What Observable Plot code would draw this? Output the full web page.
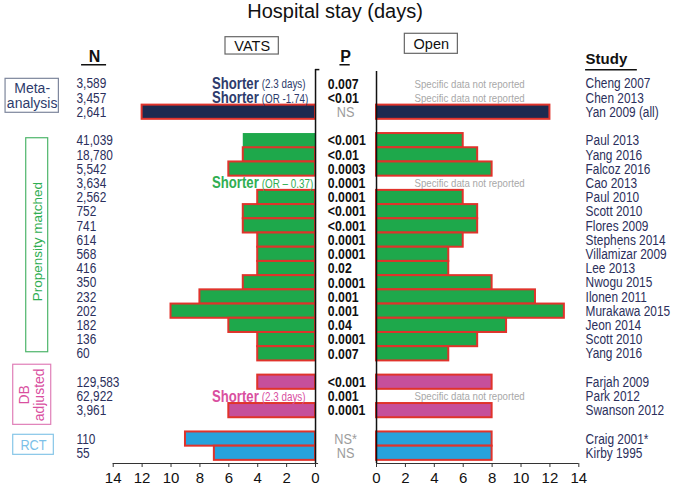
<!DOCTYPE html>
<html><head><meta charset="utf-8">
<script src="https://cdn.jsdelivr.net/npm/d3@7"></script>
<script src="https://cdn.jsdelivr.net/npm/@observablehq/plot@0.6"></script>
<style>
body{margin:0;background:#fff;}
#title{height:30px;line-height:30px;font:20px 'Liberation Sans',Arial,sans-serif;text-align:center;width:670px;color:#111;}
</style></head><body>
<div id="title">Hospital stay (days)</div>
<div id="chart"></div>
<script>
// ---------- data ----------
const groups = ["Meta-analysis", "Propensity matched", "DB adjusted", "RCT"];
const groupLabels = ["Meta-\nanalysis", "Propensity matched", "DB\nadjusted", "RCT"];
const studies = ["Cheng 2007","Chen 2013","Yan 2009 (all)",
  "Paul 2013","Yang 2016","Falcoz 2016","Cao 2013","Paul 2010","Scott 2010","Flores 2009","Stephens 2014",
  "Villamizar 2009","Lee 2013","Nwogu 2015","Ilonen 2011","Murakawa 2015","Jeon 2014","Scott 2010","Yang 2016",
  "Farjah 2009","Park 2012","Swanson 2012",
  "Craig 2001*","Kirby 1995"];
const studyGroup = [0,0,0, 1,1,1,1,1,1,1,1,1,1,1,1,1,1,1,1, 2,2,2, 3,3];
const sampleSize = ["3,589","3,457","2,641",
  "41,039","18,780","5,542","3,634","2,562","752","741","614","568","416","350","232","202","182","136","60",
  "129,583","62,922","3,961","110","55"];
const pValues = ["0.007","<0.01","NS",
  "<0.001","<0.01","0.0003","0.0001","0.0001","<0.001","<0.001","0.0001","0.0001","0.02","0.0001","0.001","0.001","0.04","0.0001","0.007",
  "<0.001","0.001","0.0001","NS*","NS"];
const vatsDays = [null,null,12, 5,5,6,null,4,5,5,4,4,4,5,8,10,6,4,4, 4,null,6, 9,7];
const openDays = [null,null,12, 6,7,8,null,6,7,7,6,5,5,8,11,13,9,7,5, 8,null,8, 8,8];
const vatsNote = ["(2.3 days)","(OR -1.74)",null, null,null,null,"(OR \u2013 0.37)",null,null,null,null,null,null,null,null,null,null,null,null, null,"(2.3 days)",null, null,null];
const axisTicks = [0,2,4,6,8,10,12,14];

// ---------- styles / layout ----------
const barFill = ["#1c2a50","#1ea84b","#c64f9b","#27a2dc"];
const labelColor = ["#2d3b6c","#2fae52","#d94f9f","#7cc0e8"];
const boxStroke = ["#7d869c","#4db56a","#e07fb8","#86c6e8"];
const RED = "#e0332b";
// "Narrow" is not installed: falls back to Liberation Sans, then condensed below
const NARROW = "'Liberation Sans Narrow','Liberation Sans',Arial,sans-serif";
const SANS = "'Liberation Sans',Arial,sans-serif";
const R0 = 4.22;          // origin of the Open panel on the shared x scale
const YMAX = 27.22;       // bottom of the frame (axis line)
const groupLayout = [
  {x1:-21.45,x2:-17.76,y1:0.15,y2:2.54,tx:-19.61,ty:1.32,rotate:0,size:14},
  {x1:-20.02,x2:-18.50,y1:4.33,y2:19.39,tx:-19.28,ty:11.6,rotate:-90,size:13.5},
  {x1:-20.92,x2:-18.29,y1:20.27,y2:24.50,tx:-19.66,ty:22.39,rotate:-90,size:14},
  {x1:-20.92,x2:-18.11,y1:25.2,y2:26.61,tx:-19.52,ty:25.93,rotate:0,size:15}
];

const rows = studies.map((s, i) => ({
  i, study: s, group: studyGroup[i], n: sampleSize[i], p: pValues[i],
  vats: vatsDays[i], open: openDays[i], note: vatsNote[i],
  row: i + studyGroup[i]
}));
const grp = groups.map((g, k) => ({name: g, label: groupLabels[k], k, ...groupLayout[k]}));

const chart = Plot.plot({
  width: 675, height: 465,
  marginTop: 46.2, marginBottom: 32, marginLeft: 0, marginRight: 0,
  x: {domain: [-21.80, 24.91], axis: null},
  y: {domain: [0, YMAX], reverse: true, axis: null},
  color: {type: "identity"},
  style: {fontFamily: SANS, background: "white", overflow: "visible"},
  marks: [
    // group boxes and labels
    Plot.rect(grp, {x1: "x1", x2: "x2", y1: "y1", y2: "y2", fill: "none", stroke: d => boxStroke[d.k], strokeWidth: 1.2}),
    Plot.text(grp.filter(d => d.k < 3), {x: "tx", y: "ty", text: "label", rotate: "rotate", fill: d => labelColor[d.k],
      fontSize: d => d.size, lineHeight: 1.12, fontFamily: SANS}),
    Plot.text(grp.filter(d => d.k === 3), {x: "tx", y: "ty", text: "label", fill: d => labelColor[d.k],
      fontSize: 15.5, fontFamily: NARROW}),
    // header boxes
    Plot.rect([{x1:-6.23,x2:-2.54,y1:-2.78,y2:-1.56},{x1:6.18,x2:9.85,y1:-3.02,y2:-1.61}],
      {x1:"x1",x2:"x2",y1:"y1",y2:"y2",fill:"none",stroke:"#666",strokeWidth:1.2}),
    Plot.text([{t:"VATS",x:-4.38,y:-2.15},{t:"Open",x:8.01,y:-2.30}], {x:"x",y:"y",text:"t",fontSize:14.5,fill:"#111"}),
    // column headers
    Plot.text([{t:"N",x:-15.29,y:-1.42},{t:"P",x:2.08,y:-1.36}], {x:"x",y:"y",text:"t",fontSize:16,fontWeight:"bold",fill:"#111"}),
    Plot.text([{t:"Study",x:18.69,y:-1.2}], {x:"x",y:"y",text:"t",fontSize:15,fontWeight:"bold",textAnchor:"start",fill:"#111"}),
    Plot.ruleY([{y:-0.84,x1:-16.19,x2:-14.46},{y:-0.84,x1:1.69,x2:2.4},{y:-0.49,x1:18.69,x2:22.27}],
      {y:"y",x1:"x1",x2:"x2",stroke:"#111",strokeWidth:1.5}),
    // VATS bars (left, reversed)
    Plot.rectX(rows.filter(d => d.vats != null), {
      x1: 0, x2: d => -d.vats, y1: d => d.row, y2: d => d.row + 1,
      fill: d => barFill[d.group], stroke: d => d.i === 3 ? "none" : RED, strokeWidth: 2
    }),
    // Open bars (right)
    Plot.rectX(rows.filter(d => d.open != null), {
      x1: R0, x2: d => R0 + d.open, y1: d => d.row, y2: d => d.row + 1,
      fill: d => barFill[d.group], stroke: RED, strokeWidth: 2
    }),
    // "Shorter" notes
    Plot.text(rows.filter(d => d.note), {x: -3.93, y: d => d.row + 0.5, text: () => "Shorter", textAnchor: "end",
      fontWeight: "bold", fontSize: 16, fontFamily: NARROW, fill: d => labelColor[d.group]}),
    Plot.text(rows.filter(d => d.note), {x: -3.72, y: d => d.row + 0.55, text: "note", textAnchor: "start",
      fontSize: 12, fontFamily: NARROW, fill: d => labelColor[d.group]}),
    Plot.text(rows.filter(d => d.open == null), {x: R0 + 6.44, y: d => d.row + 0.5, text: () => "Specific data not reported",
      fontSize: 11.8, fontFamily: NARROW, fill: "#a8a8a8"}),
    // N column
    Plot.text(rows, {x: -16.54, y: d => d.row + 0.5, text: "n", textAnchor: "start", fontSize: 14.5, fontFamily: NARROW, fill: "#2b2f5c"}),
    // P column
    Plot.text(rows.filter(d => !d.p.startsWith("NS")), {x: 0.85, y: d => d.row + 0.5, text: "p", textAnchor: "start",
      fontSize: 15, fontWeight: "bold", fontFamily: NARROW, fill: "#111"}),
    Plot.text(rows.filter(d => d.p.startsWith("NS")), {x: 2.08, y: d => d.row + 0.5, text: "p",
      fontSize: 15.5, fontFamily: NARROW, fill: "#9c9c9c"}),
    // Study column
    Plot.text(rows, {x: 18.69, y: d => d.row + 0.5, text: "study", textAnchor: "start", fontSize: 14.5, fontFamily: NARROW, fill: "#2b2f5c"}),
    // P brackets
    Plot.ruleX([0], {y1: -0.5, y2: YMAX, stroke: "#111", strokeWidth: 1.5}),
    Plot.ruleY([-0.5], {x1: 0, x2: 0.3, stroke: "#111", strokeWidth: 1.5}),
    Plot.ruleX([R0], {y1: -0.37, y2: YMAX, stroke: "#111", strokeWidth: 1.5}),
    // axes
    Plot.ruleY([YMAX], {x1: -14, x2: 0.21, stroke: "#333", strokeWidth: 1.2}),
    Plot.ruleY([YMAX], {x1: R0, x2: R0 + 14, stroke: "#333", strokeWidth: 1.2}),
    Plot.axisX({ticks: axisTicks.map(t => -t), tickFormat: d => String(Math.abs(d)), anchor: "bottom",
      tickSize: 4, tickPadding: 5, fontSize: 15, label: null, stroke: "#333", fill: "#111"}),
    Plot.axisX({ticks: axisTicks.map(t => R0 + t), tickFormat: d => String(Math.round(d - R0)), anchor: "bottom",
      tickSize: 4, tickPadding: 5, fontSize: 15, label: null, stroke: "#333", fill: "#111"})
  ]
});
// condense the "narrow" texts horizontally around their anchor
chart.querySelectorAll('g[font-family*="Narrow"] text').forEach(t => {
  const tr = t.getAttribute("transform");
  if (tr) t.setAttribute("transform", tr + " scale(0.82,1)");
  else {
    const x = +t.getAttribute("x") || 0;
    t.setAttribute("transform", `translate(${x},0) scale(0.82,1) translate(${-x},0)`);
  }
});
document.getElementById("chart").appendChild(chart);
</script></body></html>
